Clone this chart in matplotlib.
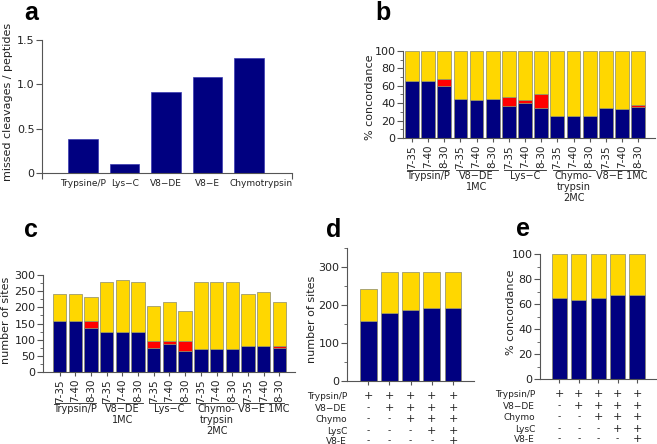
import numpy as np
import matplotlib
matplotlib.use('Agg')
import matplotlib.pyplot as plt
from matplotlib.ticker import MultipleLocator
from matplotlib.transforms import offset_copy

W, H = 657, 444
NAVY = '#000080'
GOLD = '#FFD700'
RED = '#FF0000'
EDGE = '#8a8a6a'
AXC = '#555555'

plt.rcParams['font.family'] = ['DejaVu Sans']

# panel a
enzymes_a = ['Trypsine/P', 'Lys\u2212C', 'V8\u2212DE', 'V8\u2212E', 'Chymotrypsin']
missed = [0.38, 0.10, 0.91, 1.08, 1.30]

# panel b / c
conds = ['7-35', '7-40', '8-30'] * 5
groups = ['Trypsin/P', 'V8\u2212DE\n1MC', 'Lys\u2212C', 'Chymo-\ntrypsin\n2MC', 'V8\u2212E 1MC']
b_blue = [65, 65, 60, 45, 44, 45, 37, 40, 35, 25, 25, 25, 34, 33, 36]
b_red = [0, 0, 8, 0, 0, 0, 10, 4, 16, 0, 0, 0, 0, 0, 2]
c_blue = [157, 157, 137, 125, 125, 125, 74, 86, 64, 70, 70, 70, 81, 81, 75]
c_red = [0, 0, 21, 0, 0, 0, 21, 9, 31, 0, 0, 0, 0, 0, 6]
c_total = [240, 240, 231, 278, 284, 278, 205, 218, 189, 278, 278, 278, 240, 248, 215]

# panel d / e
combo_rows = ['Trypsin/P', 'V8\u2212DE', 'Chymo', 'LysC', 'V8-E']
combo_signs = [['+', '+', '+', '+', '+'],
               ['-', '+', '+', '+', '+'],
               ['-', '-', '+', '+', '+'],
               ['-', '-', '-', '+', '+'],
               ['-', '-', '-', '-', '+']]
d_blue = [158, 180, 188, 193, 193]
d_total = [242, 288, 288, 288, 288]
e_blue = [65, 63, 65, 67, 67]

fig = plt.figure(figsize=(W / 100, H / 100), dpi=100)


def ax_px(left, right, top, bottom):
    return fig.add_axes([left / W, 1 - bottom / H, (right - left) / W, (bottom - top) / H])


def style(ax):
    for s in ['top', 'right']:
        ax.spines[s].set_visible(False)
    for s in ['left', 'bottom']:
        ax.spines[s].set_color(AXC)
        ax.spines[s].set_linewidth(0.8)
    ax.tick_params(colors=AXC, labelcolor='#222222', length=4.3, width=0.8)
    ax.tick_params(which='minor', length=2.2, width=0.6, colors=AXC)
    ax.tick_params(axis='y', labelsize=8, pad=1)


def letter(x, y, s):
    fig.text(x / W, 1 - y / H, s, fontsize=18, fontweight='bold',
             family='Liberation Sans', ha='left', va='center')


def ylab(x, y, s):
    fig.text(x / W, 1 - y / H, s, fontsize=8, rotation=90, ha='center', va='center', color='#222222')


# ---- a
ax = ax_px(42, 292, 40, 173)
style(ax)
ax.bar(range(5), missed, width=0.71, color=NAVY, edgecolor='#3a3ab0', linewidth=0.5)
ax.set_xlim(-0.99, 5.03)
ax.set_ylim(0, 1.5)
ax.set_yticks([0, 0.5, 1.0, 1.5])
ax.set_yticklabels(['0', '0.5', '1.0', '1.5'])
ax.set_xticks([-0.99, 5.03])
ax.set_xticklabels(['', ''])
shift = [0, 0, 0, 0, 12]
for i, lab in enumerate(enzymes_a):
    ax.annotate(lab, xy=(i, 0), xycoords=('data', 'axes fraction'), xytext=(shift[i], -6),
                textcoords='offset pixels', ha='center', va='top', fontsize=6.5, color='#222222')
ylab(8, 102, 'missed cleavages / peptides')
letter(24, 13, 'a')


def grouped(ax, line_dy):
    ax.set_xticks(range(15))
    ax.set_xticklabels(conds, rotation=90, fontsize=7.5)
    ax.tick_params(axis='x', length=3, pad=2)
    tr = offset_copy(ax.get_xaxis_transform(), fig=fig, x=0, y=-line_dy, units='dots')
    for g, name in enumerate(groups):
        ax.plot([g * 3 - 0.3, g * 3 + 2.3], [0, 0], color='#222222', lw=0.6,
                clip_on=False, transform=tr)
        ax.annotate(name, xy=(g * 3 + 1, 0), xycoords=('data', 'axes fraction'),
                    xytext=(0, -line_dy - 1), textcoords='offset pixels', ha='center', va='top',
                    fontsize=7, color='#222222', linespacing=1.15)


# ---- b
ax = ax_px(403, 655, 51, 138)
style(ax)
x = np.arange(15)
bb = np.array(b_blue)
br = np.array(b_red)
ax.bar(x, bb, width=0.85, color=NAVY, edgecolor=EDGE, linewidth=0.5)
ax.bar(x, br, bottom=bb, width=0.85, color=RED, edgecolor=EDGE, linewidth=0.5)
ax.bar(x, 100 - bb - br, bottom=bb + br, width=0.85, color=GOLD, edgecolor=EDGE, linewidth=0.5)
ax.set_xlim(-0.55, 15.04)
ax.set_ylim(0, 100)
ax.set_yticks(range(0, 101, 20))
ax.yaxis.set_minor_locator(MultipleLocator(10))
ylab(370, 97, '% concordance')
grouped(ax, 32)
letter(375, 13, 'b')

# ---- c
ax = ax_px(43, 295, 275, 372)
style(ax)
cb = np.array(c_blue)
cr = np.array(c_red)
ct = np.array(c_total)
ax.bar(x, cb, width=0.85, color=NAVY, edgecolor=EDGE, linewidth=0.5)
ax.bar(x, cr, bottom=cb, width=0.85, color=RED, edgecolor=EDGE, linewidth=0.5)
ax.bar(x, ct - cb - cr, bottom=cb + cr, width=0.85, color=GOLD, edgecolor=EDGE, linewidth=0.5)
ax.set_xlim(-1.06, 15.0)
ax.set_ylim(0, 300)
ax.set_yticks(range(0, 301, 50))
ax.yaxis.set_minor_locator(MultipleLocator(25))
ylab(6, 320, 'number of sites')
grouped(ax, 31)
letter(24, 230, 'c')


def combos(ax, lab_dx):
    ax.set_xticks(range(5))
    ax.set_xticklabels([''] * 5)
    ax.tick_params(axis='x', length=3)
    offs = [15, 27, 38, 50, 60]
    for r, name in enumerate(combo_rows):
        ax.annotate(name, xy=(0, 0), xycoords='axes fraction', xytext=(lab_dx, -offs[r]),
                    textcoords='offset pixels', ha='right', va='center', fontsize=6.5, color='#222222')
        for i, s in enumerate(combo_signs[r]):
            ax.annotate(s, xy=(i, 0), xycoords=('data', 'axes fraction'), xytext=(0, -offs[r]),
                        textcoords='offset pixels', ha='center', va='center',
                        fontsize=8 if s == '+' else 6.5, color='#222222')


# ---- d
ax = ax_px(347, 474, 248, 381)
style(ax)
x5 = np.arange(5)
db = np.array(d_blue)
dt = np.array(d_total)
ax.bar(x5, db, width=0.8, color=NAVY, edgecolor=EDGE, linewidth=0.5)
ax.bar(x5, dt - db, bottom=db, width=0.8, color=GOLD, edgecolor=EDGE, linewidth=0.5)
ax.set_xlim(-1.0, 4.99)
ax.set_ylim(0, 350)
ax.set_yticks([0, 100, 200, 300])
ax.yaxis.set_minor_locator(MultipleLocator(50))
ylab(312, 319, 'number of sites')
combos(ax, 0)
letter(326, 230, 'd')

# ---- e
ax = ax_px(540, 657, 254, 379)
style(ax)
eb = np.array(e_blue)
ax.bar(x5, eb, width=0.78, color=NAVY, edgecolor=EDGE, linewidth=0.5)
ax.bar(x5, 100 - eb, bottom=eb, width=0.78, color=GOLD, edgecolor=EDGE, linewidth=0.5)
ax.set_xlim(-1.0, 5.03)
ax.set_ylim(0, 100)
ax.set_yticks(range(0, 101, 20))
ax.yaxis.set_minor_locator(MultipleLocator(10))
ylab(511, 312, '% concordance')
combos(ax, -5)
letter(516, 229, 'e')

fig.savefig('out.png', dpi=100)
